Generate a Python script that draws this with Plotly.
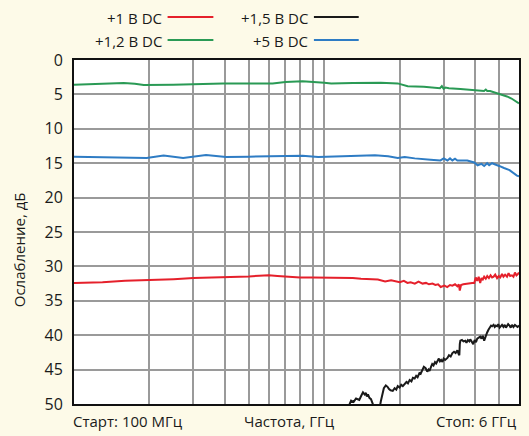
import plotly.graph_objects as go

# ---------------- data (frequency in MHz, attenuation in dB) ----------------
green_f = [100, 130, 158, 175, 190, 249, 300, 394, 500, 622, 700, 818, 1000, 1066, 1300, 1683,
           1966, 2155, 2500, 2800, 2900, 2950, 3000, 3050, 3150, 3500, 3900, 4197, 4350, 4420,
           4480, 4600, 4900, 5100, 5373, 5600, 5887, 6000]
green_db = [3.6, 3.5, 3.35, 3.45, 3.65, 3.6, 3.5, 3.4, 3.4, 3.4, 3.2, 3.1, 3.3, 3.4, 3.35, 3.3,
            3.4, 3.8, 3.9, 4.0, 4.1, 3.8, 4.2, 4.0, 4.1, 4.2, 4.3, 4.4, 4.5, 4.3, 4.5,
            4.5, 4.8, 5.0, 5.3, 5.6, 6.1, 6.3]

blue_f = [100, 140, 170, 195, 228, 273, 337, 405, 500, 622, 818, 946, 1200, 1594, 1800, 1966,
          2096, 2300, 2659, 2912, 3000, 3106, 3180, 3251, 3330, 3403, 3500, 3728, 3975, 4100,
          4250, 4355, 4476, 4560, 4680, 4771, 5000, 5227, 5500, 5887, 6000]
blue_db = [14.05, 14.1, 14.2, 14.25, 13.9, 14.25, 13.8, 14.1, 14.05, 14.0, 13.9, 14.1, 13.95,
           13.85, 14.0, 14.25, 14.1, 14.3, 14.5, 14.6, 14.3, 14.6, 14.3, 14.6, 14.35, 14.6, 14.6,
           14.6, 14.9, 15.3, 15.1, 15.4, 15.0, 15.3, 15.0, 15.1, 15.4, 15.7, 16.0, 16.8, 16.9]

red_f = [100, 130, 160, 200, 250, 300, 350, 400, 450, 500, 550, 600, 650, 700, 750, 800, 900,
         1000, 1100, 1190, 1300, 1402, 1500, 1638, 1750, 1850, 2003, 2080, 2150, 2214, 2300,
         2380, 2471, 2550, 2620, 2707, 2780, 2850, 2920, 3022, 3100, 3180, 3251, 3330, 3403,
         3450, 3480, 3498, 3520, 3594, 3700, 3800, 3900, 3975, 4030, 4085, 4140, 4198, 4250,
         4300, 4355, 4420, 4480, 4550, 4620, 4685, 4750, 4820, 4904, 4980, 5050, 5132, 5200,
         5280, 5374, 5450, 5530, 5623, 5700, 5780, 5860, 5940, 6000]
red_db = [32.4, 32.3, 32.1, 32.0, 31.85, 31.7, 31.65, 31.6, 31.55, 31.45, 31.35, 31.3, 31.4,
          31.5, 31.55, 31.6, 31.6, 31.6, 31.65, 31.6, 31.7, 31.8, 31.85, 31.9, 32.2, 32.0, 32.3,
          32.1, 32.4, 32.3, 32.5, 32.2, 32.5, 32.4, 32.6, 32.5, 32.7, 32.6, 33.0, 32.8, 33.0,
          32.7, 32.8, 32.6, 32.9, 32.6, 33.5, 33.2, 32.7, 32.6, 32.5, 32.5, 32.4, 32.4, 31.6,
          32.1, 31.5, 32.4, 31.7, 31.9, 31.5, 31.8, 31.4, 31.7, 31.3, 31.6, 31.5, 31.2, 31.7,
          31.4, 31.6, 31.1, 31.5, 31.2, 31.5, 31.0, 31.4, 31.3, 31.5, 30.9, 31.3, 31.1, 30.9]

black_f = [1190, 1250, 1280, 1310, 1340, 1380, 1410, 1428, 1450, 1468, 1480, 1495, 1515, 1537,
           1560, 1580, 1620, 1660, 1683, 1705, 1730, 1762, 1790, 1811, 1840, 1878, 1910, 1940,
           1966, 2000, 2030, 2060, 2096, 2130, 2160, 2194, 2230, 2260, 2297, 2330, 2360, 2400,
           2427, 2460, 2500, 2541, 2580, 2610, 2634, 2670, 2700, 2732, 2770, 2800, 2834, 2870,
           2900, 2930, 2967, 3000, 3040, 3106, 3150, 3200, 3251, 3300, 3350, 3403, 3440, 3466,
           3480, 3498, 3550, 3600, 3661, 3700, 3750, 3800, 3832, 3880, 3938, 3990, 4040, 4085,
           4140, 4198, 4250, 4300, 4355, 4400, 4440, 4476, 4530, 4600, 4640, 4685, 4750, 4800,
           4850, 4904, 4960, 5020, 5080, 5132, 5200, 5260, 5320, 5374, 5430, 5500, 5560, 5623,
           5700, 5780, 5850, 5920, 6000]
black_db = [51.5, 50.4, 49.5, 49.7, 49.2, 49.4, 48.7, 48.3, 48.6, 48.4, 48.9, 48.6, 49.1, 49.3,
            49.9, 50.6, 51.0, 50.8, 49.6, 48.4, 47.7, 47.3, 47.5, 47.8, 48.0, 48.1, 47.7, 47.9,
            47.4, 47.6, 47.2, 47.4, 47.0, 46.8, 47.0, 46.5, 46.7, 46.2, 46.3, 45.9, 46.1, 45.5,
            45.6, 45.1, 44.6, 44.8, 45.3, 45.0, 45.2, 44.6, 44.2, 44.4, 43.9, 44.1, 43.7, 43.4,
            43.8, 43.6, 43.9, 43.4, 43.6, 43.3, 42.9, 43.1, 42.6, 42.4, 42.6, 42.2, 42.7, 42.9,
            41.3, 40.8, 40.7, 40.9, 40.8, 41.1, 40.7, 40.9, 40.6, 41.0, 41.3, 40.7, 41.0, 40.5,
            40.4, 40.2, 40.5, 40.1, 40.8, 40.3, 39.8, 39.6, 39.2, 38.9, 38.6, 38.7, 38.5, 38.8,
            38.6, 38.7, 38.4, 38.9, 38.6, 38.5, 38.8, 38.5, 38.9, 38.7, 38.4, 38.6, 38.9, 38.5,
            38.8, 38.5, 38.6, 38.8, 38.6]

x_grid = [200, 300, 400, 500, 600, 700, 800, 900, 1000, 2000, 3000, 4000, 5000]
y_ticks = [0, 5, 10, 15, 20, 25, 30, 35, 40, 45, 50]

legend_names = ["+1 В DC", "+1,5 В DC", "+1,2 В DC", "+5 В DC"]
colors = {"red": "#E5202B", "black": "#1A1A1A", "green": "#2A9A55", "blue": "#2E7CC4"}

FONT = "Open Sans"
BG = "#FDFAE8"

fig = go.Figure()
for f, d, c in [(green_f, green_db, colors["green"]), (blue_f, blue_db, colors["blue"]),
                (red_f, red_db, colors["red"]), (black_f, black_db, colors["black"])]:
    fig.add_trace(go.Scatter(x=f, y=d, mode="lines", line=dict(color=c, width=2),
                             showlegend=False, hoverinfo="skip"))

# plot area in pixels: x 74..521, y 60..404
W, H = 529, 436
L, R, T, B = 74, 8, 60, 32
pw, ph = W - L - R, H - T - B


def px(x):
    return (x - L) / pw


def py(y):
    return (H - B - y) / ph


# legend (text right-aligned, line sample to the right)
leg = [(legend_names[0], 164, 18, 168, 214, 17, colors["red"]),
       (legend_names[1], 311, 18, 315, 360, 17, colors["black"]),
       (legend_names[2], 164, 41, 168, 214, 40, colors["green"]),
       (legend_names[3], 311, 41, 315, 360, 40, colors["blue"])]
for name, tx, ty, lx0, lx1, ly, c in leg:
    fig.add_annotation(text=name, xref="paper", yref="paper", x=px(tx), y=py(ty),
                       xanchor="right", yanchor="middle", showarrow=False,
                       font=dict(size=15, color="#1a1a1a", family=FONT))
    fig.add_shape(type="line", xref="paper", yref="paper", x0=px(lx0), x1=px(lx1),
                  y0=py(ly), y1=py(ly), line=dict(color=c, width=2))

# x-axis labels
fig.add_annotation(text="Старт: 100 МГц", xref="paper", yref="paper", x=px(71), y=py(421),
                   xanchor="left", yanchor="middle", showarrow=False,
                   font=dict(size=15, color="#1a1a1a", family=FONT))
fig.add_annotation(text="Частота, ГГц", xref="paper", yref="paper", x=px(290), y=py(421),
                   xanchor="center", yanchor="middle", showarrow=False,
                   font=dict(size=15, color="#1a1a1a", family=FONT))
fig.add_annotation(text="Стоп: 6 ГГц", xref="paper", yref="paper", x=px(521), y=py(421),
                   xanchor="right", yanchor="middle", showarrow=False,
                   font=dict(size=15, color="#1a1a1a", family=FONT))
# y-axis title
fig.add_annotation(text="Ослабление, дБ", xref="paper", yref="paper", x=px(19), y=py(250),
                   xanchor="center", yanchor="middle", textangle=-90, showarrow=False,
                   font=dict(size=15, color="#1a1a1a", family=FONT))

fig.update_layout(
    width=W, height=H,
    margin=dict(l=L, r=R, t=T, b=B),
    paper_bgcolor=BG,
    plot_bgcolor="#FFFFFF",
    font=dict(family=FONT, color="#1a1a1a"),
    xaxis=dict(type="log", range=[2, 3.77815], tickvals=x_grid, showticklabels=False,
               showgrid=True, gridcolor="#9A9A9A", gridwidth=1.5, zeroline=False,
               showline=True, linecolor="#111111", linewidth=2, mirror=True, ticks=""),
    yaxis=dict(range=[50, 0], tickvals=y_ticks, ticktext=[str(v) for v in y_ticks],
               showgrid=True, gridcolor="#9A9A9A", gridwidth=1.5, zeroline=False,
               showline=True, linecolor="#111111", linewidth=2, mirror=True, ticks="",
               ticklabelstandoff=6, tickfont=dict(size=16, family=FONT, color="#1a1a1a")),
)

fig.write_html("out.html",
               config={"displayModeBar": False},
               post_script="document.body.style.margin='0px';"
                           "document.body.style.background='" + BG + "';")
